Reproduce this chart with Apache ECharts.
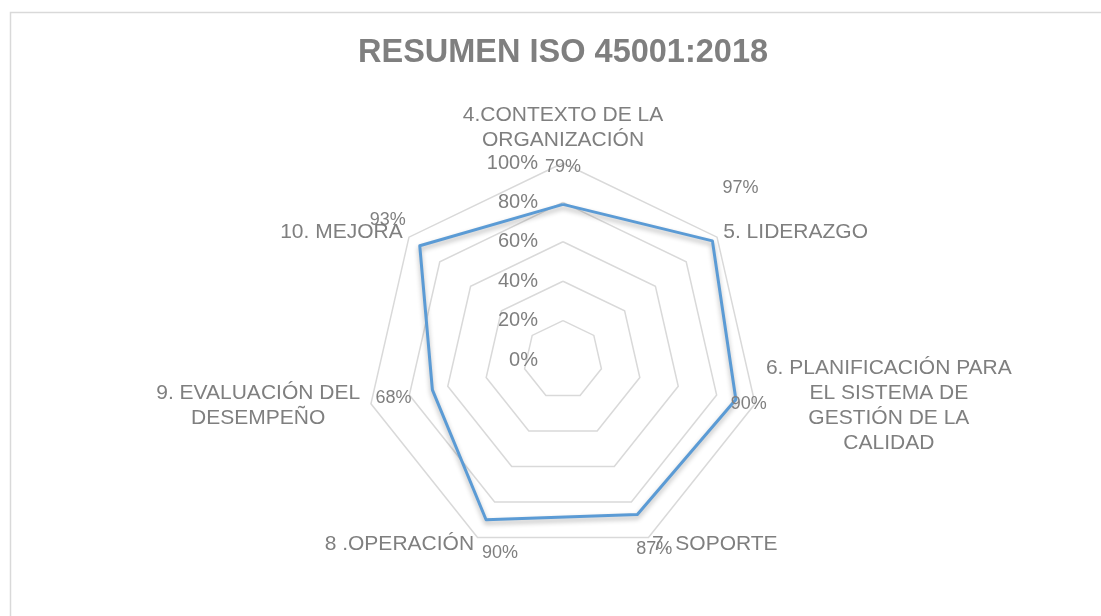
<!DOCTYPE html>
<html>
<head>
<meta charset="utf-8">
<title>Resumen ISO 45001:2018</title>
<script src="https://cdn.jsdelivr.net/npm/echarts@6/dist/echarts.min.js"></script>
<style>
    html, body { margin: 0; padding: 0; background: #fff; }
    #chart { width: 1101px; height: 616px; }
</style>
</head>
<body>
<div id="chart"></div>
<script>
const categories = [
    "4.CONTEXTO DE LA\nORGANIZACIÓN",
    "5. LIDERAZGO",
    "6. PLANIFICACIÓN PARA\nEL SISTEMA DE\nGESTIÓN DE LA\nCALIDAD",
    "7. SOPORTE",
    "8 .OPERACIÓN",
    "9. EVALUACIÓN DEL\nDESEMPEÑO",
    "10. MEJORA"
];
const values = [79, 97, 90, 87, 90, 68, 93];
const tickLabels = ["0%", "20%", "40%", "60%", "80%", "100%"];

// where each value label sits relative to its point (same order as categories)
const labelOffsets = [[0, -37], [28, -53], [13, 5], [17, 35], [14, 33], [-39, 8], [-32, -26]];

// echarts lays indicators out counter-clockwise, the original goes clockwise
const order = [0, 6, 5, 4, 3, 2, 1];
const ordValues = order.map(i => values[i]);

const gray = "#7f7f7f";
const font = "Arial, 'Liberation Sans', sans-serif";

const nameFormatter = (name) => {
    const lines = name.split("\n");
    if (lines.length === 1) return name;
    const key = name.startsWith("6.") ? "c6" : name.startsWith("9.") ? "c9" : "c4";
    return lines.map(l => `{${key}|${l}}`).join("\n");
};

const indicators = order.map((i, k) => {
    const ind = { name: categories[i], min: 0, max: 100 };
    if (k === 0) {
        ind.axisLabel = {
            show: true,
            color: gray,
            fontSize: 20,
            fontFamily: font,
            margin: 25,
            showMinLabel: true,
            formatter: v => tickLabels[Math.round(v / 20)]
        };
    }
    return ind;
});

// one invisible item per value label, so each label gets its own offset
const labelItems = order.map((i, k) => ({
    value: ordValues,
    symbol: "circle",
    symbolSize: 2,
    itemStyle: { color: "rgba(0,0,0,0)" },
    lineStyle: { opacity: 0 },
    label: {
        show: true,
        color: gray,
        fontSize: 18,
        fontFamily: font,
        position: [labelOffsets[i][0] + 1, labelOffsets[i][1] + 1],
        align: "center",
        verticalAlign: "middle",
        formatter: p => (p.dimensionIndex === k ? p.value + "%" : "")
    }
}));

const chart = echarts.init(document.getElementById("chart"));
chart.setOption({
    animation: false,
    backgroundColor: "#fff",
    title: {
        text: "RESUMEN ISO 45001:2018",
        left: 353,
        top: 32,
        textStyle: { color: gray, fontSize: 32.5, fontWeight: "bold", fontFamily: font }
    },
    graphic: [{
        type: "rect",
        left: 8,
        top: 10,
        shape: { width: 1200, height: 700 },
        style: { fill: "none", stroke: "#d9d9d9", lineWidth: 1.5 },
        silent: true
    }],
    radar: {
        center: [563, 360],
        radius: 197,
        shape: "polygon",
        splitNumber: 5,
        nameGap: 8,
        indicator: indicators,
        axisName: {
            color: gray,
            fontSize: 21,
            fontFamily: font,
            lineHeight: 25,
            formatter: nameFormatter,
            rich: {
                c4: { fontSize: 21, lineHeight: 25, color: gray, fontFamily: font },
                c6: { width: 252, align: "center", fontSize: 21, lineHeight: 25, color: gray, fontFamily: font },
                c9: { width: 210, align: "center", fontSize: 21, lineHeight: 25, color: gray, fontFamily: font }
            }
        },
        axisLine: { show: false },
        axisTick: { show: false },
        axisLabel: { show: false },
        splitArea: { show: false },
        splitLine: { lineStyle: { color: "#d9d9d9", width: 1.5 } }
    },
    series: [{
        type: "radar",
        silent: true,
        data: labelItems.concat([{
            value: ordValues,
            symbol: "none",
            lineStyle: {
                color: "#5b9bd5",
                width: 3,
                shadowColor: "rgba(0,0,0,0.3)",
                shadowBlur: 5,
                shadowOffsetY: 3
            },
            label: { show: false }
        }])
    }]
});
</script>
</body>
</html>
